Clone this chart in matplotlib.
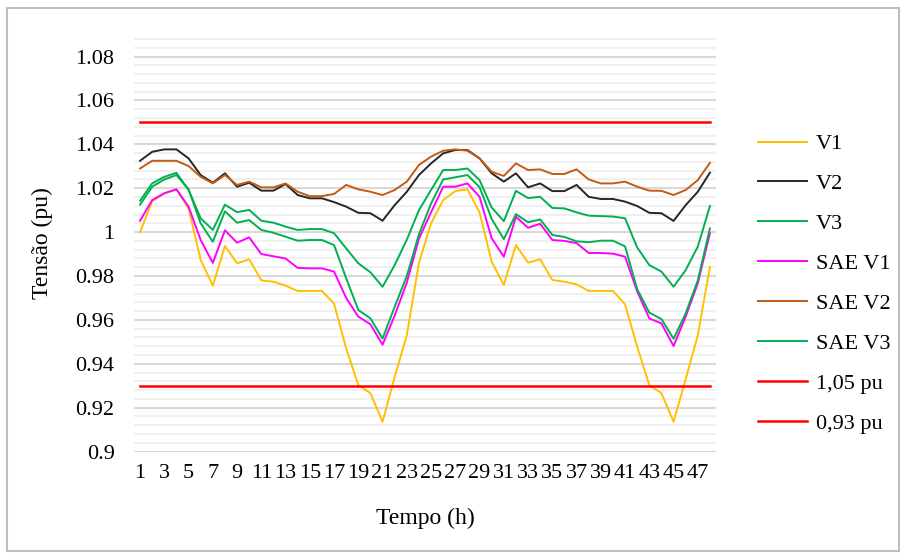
import numpy as np
import matplotlib.pyplot as plt
from matplotlib.ticker import MultipleLocator
from matplotlib.patches import Rectangle

plt.rcParams['font.family'] = ['Liberation Serif', 'DejaVu Serif']

# dados (tensao em pu, 48 horas)
horas = np.arange(1, 49)

v1 = [1.000, 1.014, 1.0177, 1.0195, 1.0108, 0.9873, 0.9756, 0.9937, 0.9858, 0.9876,
      0.978, 0.9774, 0.9756, 0.9732, 0.9732, 0.9732, 0.9674, 0.947, 0.9303, 0.9266,
      0.9136, 0.934, 0.953, 0.986, 1.004, 1.0146, 1.0187, 1.0195, 1.009, 0.9865,
      0.9759, 0.9941, 0.9861, 0.9876, 0.9782, 0.9774, 0.9762, 0.9732, 0.9732, 0.9732,
      0.9671, 0.9478, 0.9303, 0.9266, 0.9136, 0.933, 0.953, 0.9842]

v2 = [1.0325, 1.0366, 1.0377, 1.0377, 1.0336, 1.026, 1.0225, 1.0268, 1.0207, 1.0225,
      1.0189, 1.0189, 1.0219, 1.0169, 1.0154, 1.0154, 1.0137, 1.0116, 1.0088, 1.0086,
      1.0052, 1.0123, 1.0184, 1.026, 1.0313, 1.0359, 1.0374, 1.0374, 1.0336, 1.0268,
      1.023, 1.0268, 1.0204, 1.0222, 1.0187, 1.0187, 1.0215, 1.0161, 1.0151, 1.0151,
      1.0139, 1.0119, 1.0088, 1.0086, 1.0051, 1.0123, 1.0184, 1.0271]

v3 = [1.0143, 1.0222, 1.0252, 1.027, 1.0192, 1.0063, 1.001, 1.0125, 1.0091, 1.0101,
      1.0052, 1.0043, 1.0025, 1.001, 1.0014, 1.0014, 0.9995, 0.9926, 0.9858, 0.9817,
      0.9751, 0.985, 0.9965, 1.010, 1.0192, 1.0283, 1.0283, 1.029, 1.0237, 1.0112,
      1.005, 1.0188, 1.0155, 1.0161, 1.011, 1.0108, 1.009, 1.0075, 1.0073, 1.0071,
      1.0063, 0.993, 0.985, 0.982, 0.9751, 0.9827, 0.9934, 1.0119]

sae_v1 = [1.0052, 1.0146, 1.0177, 1.0195, 1.0116, 0.9964, 0.986, 1.0008, 0.9952, 0.9976,
          0.990, 0.989, 0.988, 0.9837, 0.9835, 0.9835, 0.982, 0.970, 0.9615, 0.958,
          0.9487, 0.962, 0.977, 0.997, 1.009, 1.0207, 1.0207, 1.0222, 1.0161, 0.9972,
          0.9888, 1.007, 1.002, 1.0038, 0.9964, 0.996, 0.995, 0.9905, 0.9905, 0.9902,
          0.9888, 0.973, 0.9607, 0.9584, 0.9481, 0.9615, 0.9767, 0.9995]

sae_v2 = [1.029, 1.0325, 1.0325, 1.0325, 1.0301, 1.0252, 1.0222, 1.026, 1.0215, 1.023,
          1.0204, 1.0204, 1.0222, 1.0184, 1.0164, 1.0164, 1.0174, 1.0215, 1.0195, 1.0184,
          1.0169, 1.0192, 1.023, 1.0306, 1.0344, 1.0371, 1.0377, 1.0371, 1.0336, 1.0275,
          1.0256, 1.0313, 1.0283, 1.0286, 1.0265, 1.0265, 1.0286, 1.024, 1.0222, 1.0222,
          1.023, 1.0207, 1.0189, 1.0188, 1.0169, 1.0192, 1.0237, 1.0316]

sae_v3 = [1.0125, 1.0207, 1.024, 1.026, 1.0195, 1.004, 0.9956, 1.0095, 1.0043, 1.0055,
          1.001, 0.9997, 0.9979, 0.9961, 0.9964, 0.9964, 0.9941, 0.979, 0.9645, 0.9607,
          0.9515, 0.966, 0.980, 0.999, 1.013, 1.024, 1.025, 1.026, 1.0205, 1.006,
          0.9968, 1.0082, 1.0045, 1.0058, 0.9987, 0.9978, 0.9958, 0.9954, 0.9961, 0.9961,
          0.9935, 0.974, 0.9633, 0.9604, 0.9514, 0.963, 0.978, 1.0017]

lim_sup = [1.05] * 48
lim_inf = [0.93] * 48

series = [
    ('V1', v1, '#FFC000'),
    ('V2', v2, '#262626'),
    ('V3', v3, '#00B050'),
    ('SAE V1', sae_v1, '#FF00FF'),
    ('SAE V2', sae_v2, '#C55A11'),
    ('SAE V3', sae_v3, '#00B050'),
    ('1,05 pu', lim_sup, '#FF0000'),
    ('0,93 pu', lim_inf, '#FF0000'),
]

fig = plt.figure(figsize=(9.02, 5.54), dpi=100)
ax = fig.add_axes([134/902, 1 - 451.6/554, 582/902, (451.6 - 34.6)/554])

for nome, vals, cor in series:
    lw = 1.8 if 'pu' in nome else 1.4
    ax.plot(horas, vals, color=cor, lw=lw, label=nome)

ax.set_xlim(0.5, 48.5)
ax.set_ylim(0.9, 1.09)
ax.yaxis.set_major_locator(MultipleLocator(0.02))
ax.yaxis.set_minor_locator(MultipleLocator(0.004))
ax.grid(which='major', axis='y', color='#D9D9D9', lw=1.5)
ax.grid(which='minor', axis='y', color='#F0F0F0', lw=1.5)
ax.set_axisbelow(True)
for s in ax.spines.values():
    s.set_visible(False)

ax.set_xticks(horas[::2])
ax.set_xticklabels([str(h) for h in horas[::2]])
yt = np.arange(0.9, 1.081, 0.02)
ax.set_yticks(yt)
ax.set_yticklabels(['0.9', '0.92', '0.94', '0.96', '0.98', '1', '1.02', '1.04', '1.06', '1.08'])
ax.tick_params(axis='both', which='both', length=0, labelsize=16, colors='black')
ax.tick_params(axis='y', pad=14)
ax.tick_params(axis='x', pad=9)

ax.set_xlabel('Tempo (h)', fontsize=17)
ax.set_ylabel('Tensão (pu)', fontsize=17)
ax.xaxis.set_label_coords(0.5, -0.135)
ax.yaxis.set_label_coords(-0.14, 0.5)

ax.legend(loc='center left', bbox_to_anchor=(758/902, 0.488), bbox_transform=fig.transFigure,
          frameon=False, fontsize=16, handlelength=2.2, handletextpad=0.4,
          labelspacing=0.87, borderpad=0, borderaxespad=0)

fig.patches.append(Rectangle((7/902, 3/554), 892/902, 543/554, transform=fig.transFigure,
                             fill=False, ec='#BFBFBF', lw=1.5))

plt.savefig('out.png', dpi=100)
